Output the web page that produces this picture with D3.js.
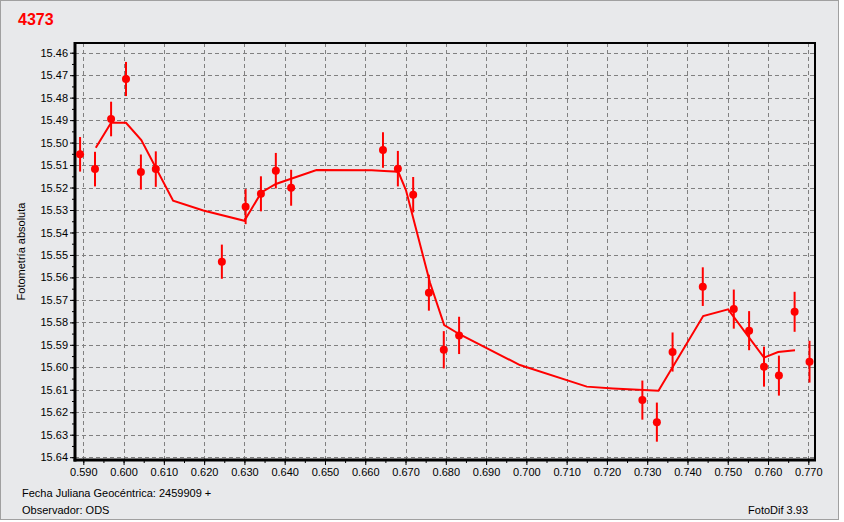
<!DOCTYPE html>
<html>
<head>
<meta charset="utf-8">
<script src="https://cdn.jsdelivr.net/npm/d3@7"></script>
<style>
  html, body { margin: 0; padding: 0; background: #ffffff; }
  svg { display: block; }
  text { font-family: "Liberation Sans", Arial, sans-serif; }
</style>
</head>
<body>
<svg id="chart" width="844" height="522"></svg>
<script>
// ---- data ----
const title = "4373";
const jd  = [0.5892, 0.5929, 0.5969, 0.6006, 0.6043, 0.6080, 0.6244, 0.6303, 0.6341, 0.6378,
             0.6416, 0.6644, 0.6681, 0.6719, 0.6758, 0.6795, 0.6833, 0.7288, 0.7324, 0.7363,
             0.7438, 0.7515, 0.7553, 0.7590, 0.7627, 0.7666, 0.7703];
const mag = [15.5052, 15.5118, 15.4895, 15.4717, 15.5131, 15.5118, 15.5530, 15.5285, 15.5228, 15.5125,
             15.5201, 15.5033, 15.5116, 15.5232, 15.5668, 15.5922, 15.5858, 15.6146, 15.6244, 15.5932,
             15.5641, 15.5741, 15.5837, 15.5997, 15.6037, 15.5753, 15.5975];
const err = [0.0077, 0.0077, 0.0077, 0.0076, 0.0078, 0.0079, 0.0076, 0.0078, 0.0078, 0.0079,
             0.0080, 0.0079, 0.0079, 0.0079, 0.0080, 0.0083, 0.0083, 0.0087, 0.0087, 0.0087,
             0.0086, 0.0087, 0.0087, 0.0089, 0.0089, 0.0089, 0.0093];
const fitX = [0.5931, 0.5969, 0.6006, 0.6044, 0.6123, 0.6198, 0.6300, 0.6342, 0.6378, 0.6479,
              0.6616, 0.6647, 0.6682, 0.6701, 0.6761, 0.6796, 0.6835, 0.6984, 0.7150, 0.7215,
              0.7328, 0.7439, 0.7501, 0.7590, 0.7625, 0.7667];
const fitY = [15.5023, 15.4912, 15.4912, 15.4989, 15.5259, 15.5302, 15.5348, 15.5222, 15.5184, 15.5122,
              15.5123, 15.5126, 15.5130, 15.5211, 15.5625, 15.5812, 15.5854, 15.5990, 15.6086, 15.6094,
              15.6104, 15.5772, 15.5742, 15.5957, 15.5932, 15.5924];
const xTicks = [0.590, 0.600, 0.610, 0.620, 0.630, 0.640, 0.650, 0.660, 0.670, 0.680,
                0.690, 0.700, 0.710, 0.720, 0.730, 0.740, 0.750, 0.760, 0.770];
const yTicks = [15.46, 15.47, 15.48, 15.49, 15.50, 15.51, 15.52, 15.53, 15.54, 15.55,
                15.56, 15.57, 15.58, 15.59, 15.60, 15.61, 15.62, 15.63, 15.64];
const yLabel = "Fotometría absoluta";
const footer1 = "Fecha Juliana Geocéntrica: 2459909 +";
const footer2 = "Observador: ODS";
const footer3 = "FotoDif 3.93";

// ---- layout ----
const L = 75, R = 815, T = 43, B = 460;
const svg = d3.select("#chart");
const bg = "#e8e9eb";
const red = "#ff0000";

svg.append("rect").attr("x", 0.5).attr("y", 0.5).attr("width", 838).attr("height", 519)
  .attr("fill", bg).attr("stroke", "#a0a0a0");

const x = d3.scaleLinear().domain([0.58794, 0.77166]).range([L, R]);
const y = d3.scaleLinear().domain([15.45568, 15.64125]).range([T, B]);

// grid
const grid = svg.append("g");
grid.selectAll("line.gx").data(xTicks).join("line")
  .attr("x1", d => Math.round(x(d)) + 0.5).attr("x2", d => Math.round(x(d)) + 0.5)
  .attr("y1", T).attr("y2", B)
  .attr("stroke", "#808080").attr("stroke-dasharray", "4,3");
grid.selectAll("line.gy").data(yTicks).join("line")
  .attr("y1", d => Math.round(y(d)) + 0.5).attr("y2", d => Math.round(y(d)) + 0.5)
  .attr("x1", L).attr("x2", R)
  .attr("stroke", "#808080").attr("stroke-dasharray", "4,3");

// axes
const xMinor = d3.range(0.585, 0.7751, 0.005).filter(v => v > 0.58794 && v < 0.77166);
const yMinor = d3.range(15.455, 15.6451, 0.005).filter(v => v > 15.45568 && v < 15.64125);

const gx = svg.append("g").attr("transform", `translate(0,${B})`)
  .call(d3.axisBottom(x).tickValues(xTicks).tickFormat(d3.format(".3f")).tickSize(5).tickSizeOuter(0));
const gxm = svg.append("g").attr("transform", `translate(0,${B})`)
  .call(d3.axisBottom(x).tickValues(xMinor).tickFormat("").tickSize(3).tickSizeOuter(0));
const gy = svg.append("g").attr("transform", `translate(${L},0)`)
  .call(d3.axisLeft(y).tickValues(yTicks).tickFormat(d3.format(".2f")).tickSize(5).tickSizeOuter(0));
const gym = svg.append("g").attr("transform", `translate(${L},0)`)
  .call(d3.axisLeft(y).tickValues(yMinor).tickFormat("").tickSize(3).tickSizeOuter(0));

[gx, gxm, gy, gym].forEach(g => {
  g.select(".domain").remove();
  g.selectAll(".tick line").attr("stroke", "#000");
  g.selectAll(".tick text").attr("fill", "#000").style("font-size", "11px")
    .style("font-family", '"Liberation Sans", Arial, sans-serif');
});
gx.selectAll(".tick text").attr("dy", "0.71em").attr("y", 8);
gy.selectAll(".tick text").attr("x", -7);

// frame
svg.append("line").attr("x1", L - 1).attr("x2", R + 1).attr("y1", T).attr("y2", T).attr("stroke", "#000").attr("stroke-width", 2);
svg.append("line").attr("x1", R).attr("x2", R).attr("y1", T).attr("y2", B).attr("stroke", "#000").attr("stroke-width", 2);
svg.append("line").attr("x1", L).attr("x2", L).attr("y1", T - 1).attr("y2", B + 1.5).attr("stroke", "#000").attr("stroke-width", 3);
svg.append("line").attr("x1", L - 1.5).attr("x2", R + 1).attr("y1", B).attr("y2", B).attr("stroke", "#000").attr("stroke-width", 3);

// fit line
const line = d3.line().x(d => x(d[0])).y(d => y(d[1]));
svg.append("path").datum(fitX.map((v, i) => [v, fitY[i]]))
  .attr("d", line).attr("fill", "none").attr("stroke", red).attr("stroke-width", 2)
  .attr("stroke-linejoin", "miter");

// error bars and points
const pts = jd.map((v, i) => ({ x: v, m: mag[i], e: err[i] }));
svg.append("g").selectAll("line").data(pts).join("line")
  .attr("x1", d => x(d.x)).attr("x2", d => x(d.x))
  .attr("y1", d => y(d.m - d.e)).attr("y2", d => y(d.m + d.e))
  .attr("stroke", red).attr("stroke-width", 2);
svg.append("g").selectAll("circle").data(pts).join("circle")
  .attr("cx", d => x(d.x)).attr("cy", d => y(d.m)).attr("r", 4).attr("fill", red);

// texts
svg.append("text").attr("x", 18).attr("y", 25).text(title)
  .attr("fill", red).style("font-weight", "bold").style("font-size", "16px");
svg.append("text").attr("transform", `translate(25,${(T + B) / 2}) rotate(-90)`)
  .attr("text-anchor", "middle").style("font-size", "11px").attr("fill", "#000").text(yLabel);
svg.append("text").attr("x", 22).attr("y", 497).style("font-size", "11px").attr("fill", "#000").text(footer1);
svg.append("text").attr("x", 22).attr("y", 514).style("font-size", "11px").attr("fill", "#000").text(footer2);
svg.append("text").attr("x", 808).attr("y", 514).attr("text-anchor", "end").style("font-size", "11px").attr("fill", "#000").text(footer3);
</script>
</body>
</html>
